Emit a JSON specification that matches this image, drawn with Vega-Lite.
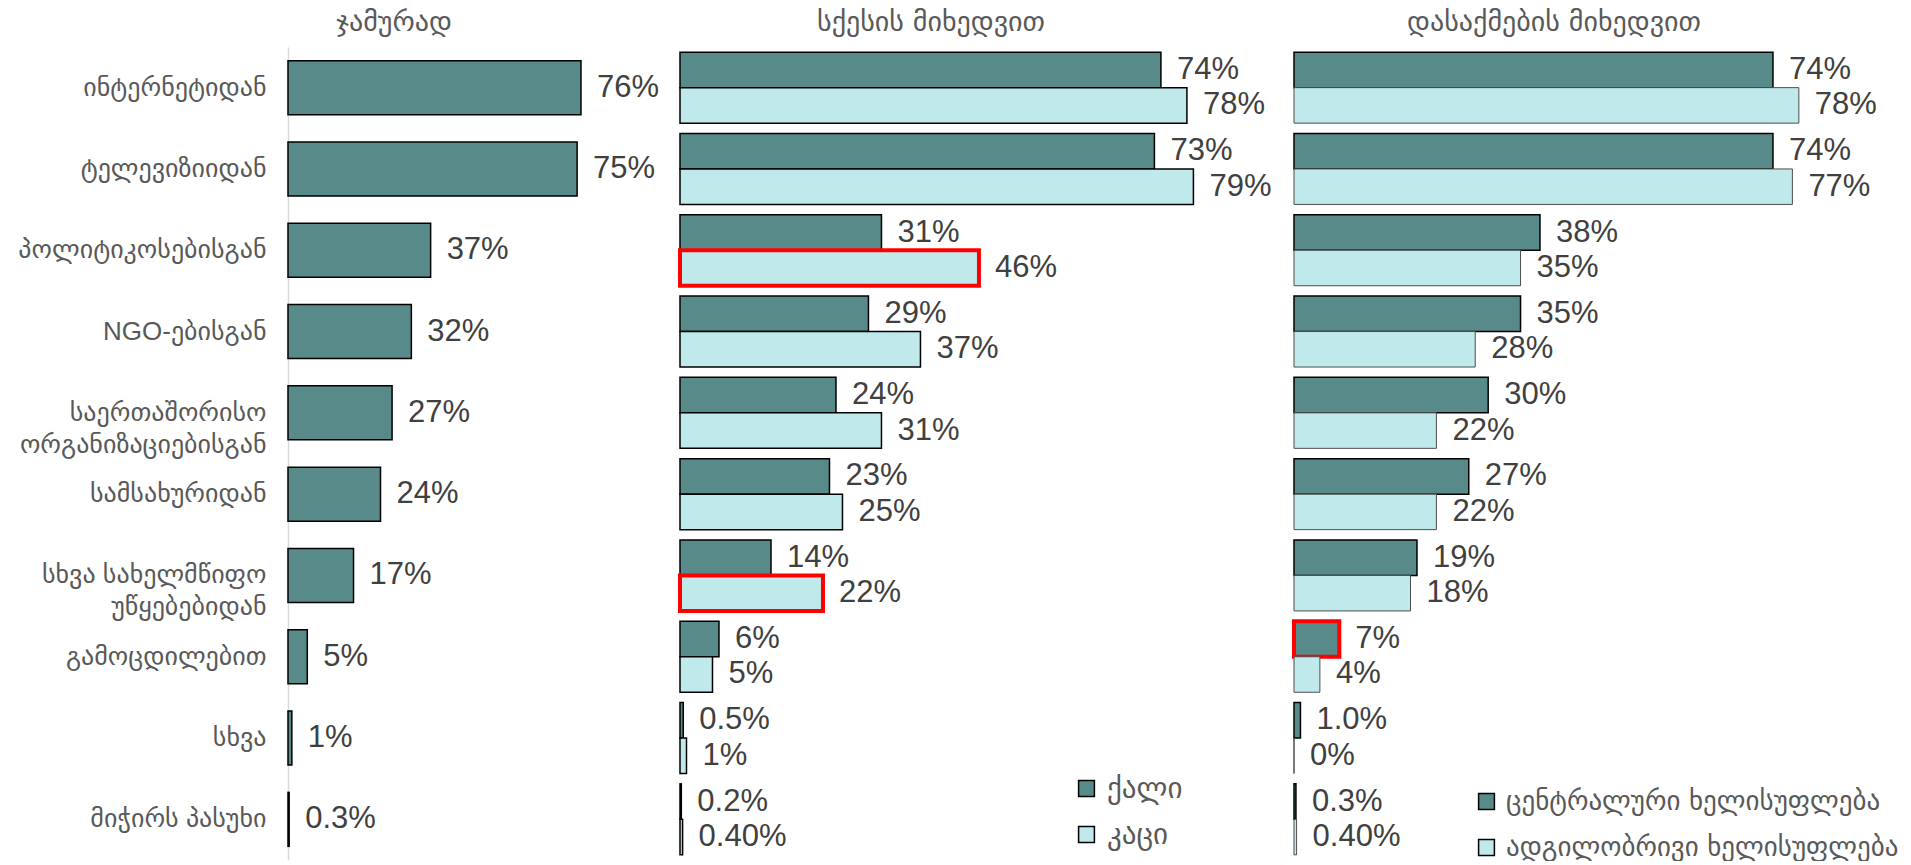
{
  "$schema": "https://vega.github.io/schema/vega-lite/v6.json",
  "background": "white",
  "padding": {"left": 5, "top": 9, "right": 5, "bottom": 0},
  "bounds": "flush",
  "spacing": 20,
  "config": {
    "view": {"stroke": null},
    "title": {"font": "DejaVu Sans", "fontSize": 28, "fontWeight": "normal", "color": "#595959", "baseline": "bottom", "offset": 10}
  },
  "datasets": {
    "total": [
      {"cat": "ინტერნეტიდან", "value": 76, "label": "76%"},
      {"cat": "ტელევიზიიდან", "value": 75, "label": "75%"},
      {"cat": "პოლიტიკოსებისგან", "value": 37, "label": "37%"},
      {"cat": "NGO-ებისგან", "value": 32, "label": "32%"},
      {"cat": "საერთაშორისო ორგანიზაციებისგან", "value": 27, "label": "27%"},
      {"cat": "სამსახურიდან", "value": 24, "label": "24%"},
      {"cat": "სხვა სახელმწიფო უწყებებიდან", "value": 17, "label": "17%"},
      {"cat": "გამოცდილებით", "value": 5, "label": "5%"},
      {"cat": "სხვა", "value": 1, "label": "1%"},
      {"cat": "მიჭირს პასუხი", "value": 0.3, "label": "0.3%"}
    ],
    "sex": [
      {"cat": "ინტერნეტიდან", "group": "ქალი", "value": 74, "label": "74%"},
      {"cat": "ინტერნეტიდან", "group": "კაცი", "value": 78, "label": "78%"},
      {"cat": "ტელევიზიიდან", "group": "ქალი", "value": 73, "label": "73%"},
      {"cat": "ტელევიზიიდან", "group": "კაცი", "value": 79, "label": "79%"},
      {"cat": "პოლიტიკოსებისგან", "group": "ქალი", "value": 31, "label": "31%"},
      {"cat": "პოლიტიკოსებისგან", "group": "კაცი", "value": 46, "label": "46%"},
      {"cat": "NGO-ებისგან", "group": "ქალი", "value": 29, "label": "29%"},
      {"cat": "NGO-ებისგან", "group": "კაცი", "value": 37, "label": "37%"},
      {"cat": "საერთაშორისო ორგანიზაციებისგან", "group": "ქალი", "value": 24, "label": "24%"},
      {"cat": "საერთაშორისო ორგანიზაციებისგან", "group": "კაცი", "value": 31, "label": "31%"},
      {"cat": "სამსახურიდან", "group": "ქალი", "value": 23, "label": "23%"},
      {"cat": "სამსახურიდან", "group": "კაცი", "value": 25, "label": "25%"},
      {"cat": "სხვა სახელმწიფო უწყებებიდან", "group": "ქალი", "value": 14, "label": "14%"},
      {"cat": "სხვა სახელმწიფო უწყებებიდან", "group": "კაცი", "value": 22, "label": "22%"},
      {"cat": "გამოცდილებით", "group": "ქალი", "value": 6, "label": "6%"},
      {"cat": "გამოცდილებით", "group": "კაცი", "value": 5, "label": "5%"},
      {"cat": "სხვა", "group": "ქალი", "value": 0.5, "label": "0.5%"},
      {"cat": "სხვა", "group": "კაცი", "value": 1, "label": "1%"},
      {"cat": "მიჭირს პასუხი", "group": "ქალი", "value": 0.2, "label": "0.2%"},
      {"cat": "მიჭირს პასუხი", "group": "კაცი", "value": 0.4, "label": "0.40%"}
    ],
    "emp": [
      {"cat": "ინტერნეტიდან", "group": "ცენტრალური ხელისუფლება", "value": 74, "label": "74%"},
      {"cat": "ინტერნეტიდან", "group": "ადგილობრივი ხელისუფლება", "value": 78, "label": "78%"},
      {"cat": "ტელევიზიიდან", "group": "ცენტრალური ხელისუფლება", "value": 74, "label": "74%"},
      {"cat": "ტელევიზიიდან", "group": "ადგილობრივი ხელისუფლება", "value": 77, "label": "77%"},
      {"cat": "პოლიტიკოსებისგან", "group": "ცენტრალური ხელისუფლება", "value": 38, "label": "38%"},
      {"cat": "პოლიტიკოსებისგან", "group": "ადგილობრივი ხელისუფლება", "value": 35, "label": "35%"},
      {"cat": "NGO-ებისგან", "group": "ცენტრალური ხელისუფლება", "value": 35, "label": "35%"},
      {"cat": "NGO-ებისგან", "group": "ადგილობრივი ხელისუფლება", "value": 28, "label": "28%"},
      {"cat": "საერთაშორისო ორგანიზაციებისგან", "group": "ცენტრალური ხელისუფლება", "value": 30, "label": "30%"},
      {"cat": "საერთაშორისო ორგანიზაციებისგან", "group": "ადგილობრივი ხელისუფლება", "value": 22, "label": "22%"},
      {"cat": "სამსახურიდან", "group": "ცენტრალური ხელისუფლება", "value": 27, "label": "27%"},
      {"cat": "სამსახურიდან", "group": "ადგილობრივი ხელისუფლება", "value": 22, "label": "22%"},
      {"cat": "სხვა სახელმწიფო უწყებებიდან", "group": "ცენტრალური ხელისუფლება", "value": 19, "label": "19%"},
      {"cat": "სხვა სახელმწიფო უწყებებიდან", "group": "ადგილობრივი ხელისუფლება", "value": 18, "label": "18%"},
      {"cat": "გამოცდილებით", "group": "ცენტრალური ხელისუფლება", "value": 7, "label": "7%"},
      {"cat": "გამოცდილებით", "group": "ადგილობრივი ხელისუფლება", "value": 4, "label": "4%"},
      {"cat": "სხვა", "group": "ცენტრალური ხელისუფლება", "value": 1.0, "label": "1.0%"},
      {"cat": "სხვა", "group": "ადგილობრივი ხელისუფლება", "value": 0, "label": "0%"},
      {"cat": "მიჭირს პასუხი", "group": "ცენტრალური ხელისუფლება", "value": 0.3, "label": "0.3%"},
      {"cat": "მიჭირს პასუხი", "group": "ადგილობრივი ხელისუფლება", "value": 0.4, "label": "0.40%"}
    ]
  },
  "resolve": {"scale": {"color": "independent", "x": "independent", "y": "independent", "yOffset": "independent"}, "legend": {"color": "independent"}},
  "hconcat": [
    {
      "width": 372,
      "height": 813,
      "title": {"text": "ჯამურად", "dx": -80},
      "data": {"name": "total"},
      "encoding": {
        "y": {
          "field": "cat", "type": "nominal", "sort": null,
          "scale": {"paddingInner": 0.336, "paddingOuter": 0.168},
          "axis": {
            "title": null, "ticks": false, "domainColor": "#d9d9d9", "domainWidth": 1.5,
            "labelFont": "Liberation Sans, DejaVu Sans", "labelFontSize": 26, "labelColor": "#595959",
            "labelPadding": 22, "minExtent": 283, "maxExtent": 283, "labelLimit": 0, "labelLineHeight": 32,
            "labelExpr": "datum.value === 'საერთაშორისო ორგანიზაციებისგან' ? ['საერთაშორისო', 'ორგანიზაციებისგან'] : datum.value === 'სხვა სახელმწიფო უწყებებიდან' ? ['სხვა სახელმწიფო', 'უწყებებიდან'] : datum.value"
          }
        },
        "x": {"field": "value", "type": "quantitative", "scale": {"domain": [0, 96.5], "nice": false}, "axis": null}
      },
      "layer": [
        {"mark": {"type": "bar", "color": "#588a89", "stroke": "black", "strokeWidth": 1.5}},
        {"mark": {"type": "text", "align": "left", "baseline": "middle", "dx": 16, "font": "Liberation Sans", "fontSize": 31, "color": "#404040"},
         "encoding": {"text": {"field": "label"}}}
      ]
    },
    {
      "width": 594,
      "height": 813,
      "title": {"text": "სქესის მიხედვით", "dx": -46},
      "data": {"name": "sex"},
      "encoding": {
        "y": {"field": "cat", "type": "nominal", "sort": null, "scale": {"paddingInner": 0.127, "paddingOuter": 0.0635}, "axis": null},
        "yOffset": {"field": "group", "type": "nominal", "scale": {"domain": ["ქალი", "კაცი"], "paddingInner": 0, "paddingOuter": 0}},
        "x": {"field": "value", "type": "quantitative", "scale": {"domain": [0, 91.4], "nice": false}, "axis": null}
      },
      "layer": [
        {
          "mark": {"type": "bar"},
          "encoding": {
            "color": {
              "field": "group", "type": "nominal",
              "scale": {"domain": ["ქალი", "კაცი"], "range": ["#588a89", "#c0e9eb"]},
              "legend": {
                "orient": "none", "legendX": 392, "legendY": 727, "title": null,
                "labelFont": "DejaVu Sans", "labelFontSize": 29, "labelColor": "#595959",
                "symbolType": "square", "symbolSize": 250, "symbolStrokeColor": "black", "symbolStrokeWidth": 1.5,
                "rowPadding": 16, "labelOffset": 6
              }
            },
            "stroke": {
              "condition": {"test": "datum.group === 'კაცი' && (datum.cat === 'პოლიტიკოსებისგან' || datum.cat === 'სხვა სახელმწიფო უწყებებიდან')", "value": "#ff0000"},
              "value": "black"
            },
            "strokeWidth": {
              "condition": {"test": "datum.group === 'კაცი' && (datum.cat === 'პოლიტიკოსებისგან' || datum.cat === 'სხვა სახელმწიფო უწყებებიდან')", "value": 4},
              "value": 1.5
            }
          }
        },
        {"mark": {"type": "text", "align": "left", "baseline": "middle", "dx": 16, "font": "Liberation Sans", "fontSize": 31, "color": "#404040"},
         "encoding": {"text": {"field": "label"}}}
      ]
    },
    {
      "width": 600,
      "height": 813,
      "title": {"text": "დასაქმების მიხედვით", "dx": -40},
      "data": {"name": "emp"},
      "encoding": {
        "y": {"field": "cat", "type": "nominal", "sort": null, "scale": {"paddingInner": 0.127, "paddingOuter": 0.0635}, "axis": null},
        "yOffset": {"field": "group", "type": "nominal", "scale": {"domain": ["ცენტრალური ხელისუფლება", "ადგილობრივი ხელისუფლება"], "paddingInner": 0, "paddingOuter": 0}},
        "x": {"field": "value", "type": "quantitative", "scale": {"domain": [0, 92.7], "nice": false}, "axis": null}
      },
      "layer": [
        {
          "mark": {"type": "bar"},
          "encoding": {
            "color": {
              "field": "group", "type": "nominal",
              "scale": {"domain": ["ცენტრალური ხელისუფლება", "ადგილობრივი ხელისუფლება"], "range": ["#588a89", "#c0e9eb"]},
              "legend": {
                "orient": "none", "legendX": 179, "legendY": 741, "title": null,
                "labelFont": "DejaVu Sans", "labelFontSize": 27, "labelColor": "#595959", "labelLimit": 0,
                "symbolType": "square", "symbolSize": 250, "symbolStrokeColor": "black", "symbolStrokeWidth": 1.5,
                "rowPadding": 18, "labelOffset": 6
              }
            },
            "stroke": {
              "condition": [
                {"test": "datum.group === 'ცენტრალური ხელისუფლება' && datum.cat === 'გამოცდილებით'", "value": "#ff0000"},
                {"test": "datum.group === 'ადგილობრივი ხელისუფლება'", "value": "#4d4d4d"}
              ],
              "value": "black"
            },
            "strokeWidth": {
              "condition": [
                {"test": "datum.group === 'ცენტრალური ხელისუფლება' && datum.cat === 'გამოცდილებით'", "value": 4},
                {"test": "datum.group === 'ადგილობრივი ხელისუფლება'", "value": 1}
              ],
              "value": 1.5
            }
          }
        },
        {"mark": {"type": "text", "align": "left", "baseline": "middle", "dx": 16, "font": "Liberation Sans", "fontSize": 31, "color": "#404040"},
         "encoding": {"text": {"field": "label"}}}
      ]
    }
  ]
}
